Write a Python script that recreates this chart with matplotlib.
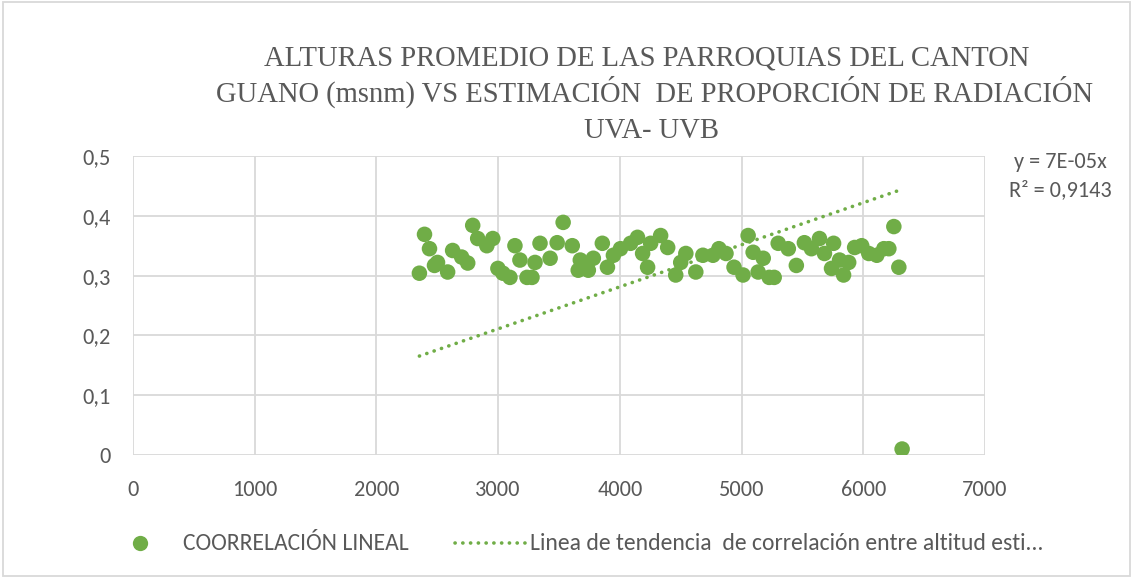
import numpy as np
import matplotlib
matplotlib.use("Agg")
import matplotlib.pyplot as plt
from matplotlib.lines import Line2D
from matplotlib.patches import Rectangle
from matplotlib import font_manager as fm

title_lines = ["ALTURAS PROMEDIO DE LAS PARROQUIAS DEL CANTON",
               "GUANO (msnm) VS ESTIMACIÓN  DE PROPORCIÓN DE RADIACIÓN",
               "UVA- UVB"]
series_label = "COORRELACIÓN LINEAL"
trend_label = "Linea de tendencia  de correlación entre altitud esti..."
equation_lines = ["y = 7E-05x", "R² = 0,9143"]

altitud = [2353, 2395, 2436, 2477, 2502, 2585, 2626, 2700, 2750, 2791,
           2832, 2907, 2956, 2998, 3039, 3097, 3138, 3179, 3237, 3278,
           3303, 3344, 3427, 3485, 3534, 3609, 3658, 3675, 3741, 3782,
           3856, 3898, 3947, 4005, 4088, 4145, 4187, 4228, 4253, 4335,
           4393, 4459, 4500, 4542, 4624, 4682, 4765, 4814, 4872, 4938,
           5012, 5054, 5095, 5136, 5178, 5227, 5268, 5301, 5384, 5450,
           5516, 5574, 5640, 5681, 5739, 5756, 5805, 5838, 5880, 5929,
           5987, 6045, 6111, 6169, 6210, 6251, 6292, 6319]
proporcion = [0.304, 0.369, 0.345, 0.317, 0.322, 0.306, 0.342, 0.331, 0.321, 0.384,
              0.362, 0.350, 0.362, 0.312, 0.304, 0.297, 0.350, 0.326, 0.297, 0.297,
              0.322, 0.354, 0.329, 0.355, 0.389, 0.350, 0.309, 0.326, 0.309, 0.329,
              0.354, 0.314, 0.334, 0.345, 0.354, 0.364, 0.337, 0.314, 0.354, 0.367,
              0.347, 0.301, 0.322, 0.337, 0.306, 0.334, 0.334, 0.345, 0.337, 0.314,
              0.301, 0.367, 0.339, 0.306, 0.329, 0.297, 0.297, 0.354, 0.345, 0.317,
              0.355, 0.345, 0.362, 0.337, 0.312, 0.354, 0.326, 0.301, 0.322, 0.347,
              0.350, 0.337, 0.334, 0.345, 0.345, 0.382, 0.314, 0.010]

x_ticks = [0, 1000, 2000, 3000, 4000, 5000, 6000, 7000]
y_ticks = [0, 0.1, 0.2, 0.3, 0.4, 0.5]
y_tick_labels = ["0", "0,1", "0,2", "0,3", "0,4", "0,5"]

green = "#70AD47"
text_gray = "#595959"
grid_gray = "#D9D9D9"
available = set(f.name for f in fm.fontManager.ttflist)
sans = "Carlito" if "Carlito" in available else "Lato"
serif = "Liberation Serif"
dots = (0, (0.05, 2.1))

W, H = 1132, 577
fig = plt.figure(figsize=(W / 100, H / 100), dpi=100)
ax = fig.add_axes([133 / W, 1 - 455 / H, (985 - 133) / W, (455 - 156) / H])

x = np.array(altitud, dtype=float)
y = np.array(proporcion, dtype=float)

ax.scatter(x, y, s=125, color=green, edgecolors="none", zorder=3)

# linear trend through origin
slope = np.sum(x * y) / np.sum(x * x)
xt = np.array([x.min(), x.max()])
ax.plot(xt, slope * xt, color=green, lw=2.6, linestyle=dots,
        dash_capstyle="round", zorder=2)

ax.set_xlim(0, 7000)
ax.set_ylim(0, 0.5)
ax.set_xticks(x_ticks)
ax.set_xticklabels([str(t) for t in x_ticks])
ax.set_yticks(y_ticks)
ax.set_yticklabels(y_tick_labels)
ax.grid(True, color=grid_gray, lw=1.3)
ax.set_axisbelow(True)
for s in ax.spines.values():
    s.set_visible(False)
ax.tick_params(length=0, labelsize=16, colors=text_gray)
for lab in ax.get_xticklabels() + ax.get_yticklabels():
    lab.set_fontfamily(sans)
ax.tick_params(axis="x", pad=18)
ax.tick_params(axis="y", pad=16)

title_centers = [647, 654, 652]
title_baselines = [65, 102, 138]
for line, cx, by in zip(title_lines, title_centers, title_baselines):
    fig.text(cx / W, 1 - by / H, line, ha="center", va="baseline",
             fontsize=20.6, family=serif, color=text_gray)

for i, line in enumerate(equation_lines):
    fig.text(1060 / W, 1 - (162 + 28 * i) / H, line, ha="center", va="center",
             fontsize=16, family=sans, color=text_gray)

# legend drawn manually
ly = 1 - 543 / H
fig.add_artist(Line2D([140 / W], [ly], marker="o", linestyle="none", color=green,
                      markersize=11, markeredgewidth=0,
                      transform=fig.transFigure))
fig.text(183 / W, ly, series_label, ha="left", va="center", fontsize=17,
         family=sans, color=text_gray)
fig.add_artist(Line2D([455 / W, 525 / W], [ly, ly], color=green, lw=2.6,
                      linestyle=dots, dash_capstyle="round",
                      transform=fig.transFigure))
fig.text(530 / W, ly, trend_label, ha="left", va="center", fontsize=17,
         family=sans, color=text_gray)

fig.add_artist(Rectangle((3 / W, 1 / H), (W - 5) / W, (H - 3) / H,
                         transform=fig.transFigure, fill=False,
                         edgecolor=grid_gray, lw=1.3))

fig.savefig("out.png", dpi=100)
